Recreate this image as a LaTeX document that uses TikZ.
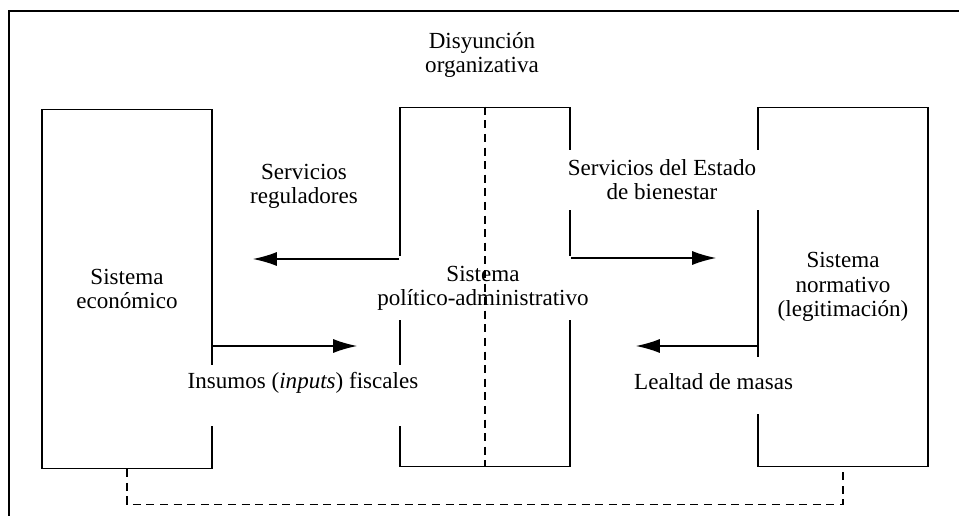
\documentclass[tikz,border=0pt]{standalone}
\usepackage{fontspec}
\setmainfont{Liberation Serif}
\usetikzlibrary{arrows.meta}

\begin{document}
\begin{tikzpicture}[line width=1.1pt, every node/.style={align=center,font=\fontsize{16.4}{17.2}\selectfont},
	sysbox/.style={draw,minimum width=4.25cm,minimum height=8.975cm},
	gaplbl/.style={fill=white,inner ysep=0.25cm},
	flow/.style={-{Latex[length=0.6cm,width=0.35cm]}}]
			\useasboundingbox (0,0) rectangle (23.975,-12.9);
			\draw (0.225,-12.9) -- (0.225,-0.275) -- (23.975,-0.275);
			\node(disy) at (12.05, -1.375) {Disyunción\\organizativa};
			\node[sysbox](eco) at (3.175, -7.225) {Sistema\\económico};
			\node[sysbox](pol) at (12.125, -7.175) {};
			\node[sysbox](nor) at (21.075, -7.175) {Sistema\\normativo\\(legitimación)};
			\node[gaplbl](poltxt) at (12.075, -7.2) {Sistema\\político-administrativo};
			\node(reg) at (7.6, -4.65) {Servicios\\reguladores};
			\node[gaplbl](estado) at (16.55, -4.5) {Servicios del Estado\\de bienestar};
			\node[gaplbl,anchor=base,inner ysep=0,text height=0.575cm,text depth=0.95cm](ins) at (7.575, -9.7) {Insumos (\textit{inputs}) fiscales};
			\node[gaplbl,anchor=base,inner ysep=0,text height=0.8cm,text depth=0.625cm](leal) at (17.84, -9.725) {Lealtad de masas};
			\draw[flow,shorten >=1cm] (pol.west |- 0,-6.475) -- (eco.east |- 0,-6.475);
			\draw[flow,shorten >=1.05cm] (eco.east |- 0,-8.65) -- (pol.west |- 0,-8.65);
			\draw[flow,shorten >=1.025cm] (pol.east |- 0,-6.45) -- (nor.west |- 0,-6.45);
			\draw[flow,shorten >=1.625cm] (nor.west |- 0,-8.65) -- (pol.east |- 0,-8.65);
			\draw[dashed,dash pattern=on 0.2cm off 0.14cm] (pol.north) -- (pol.south);
			\draw[dashed,dash pattern=on 0.2cm off 0.14cm] (eco.south) -- ++(0,-0.875) -| (nor.south);
		\end{tikzpicture}
\end{document}
